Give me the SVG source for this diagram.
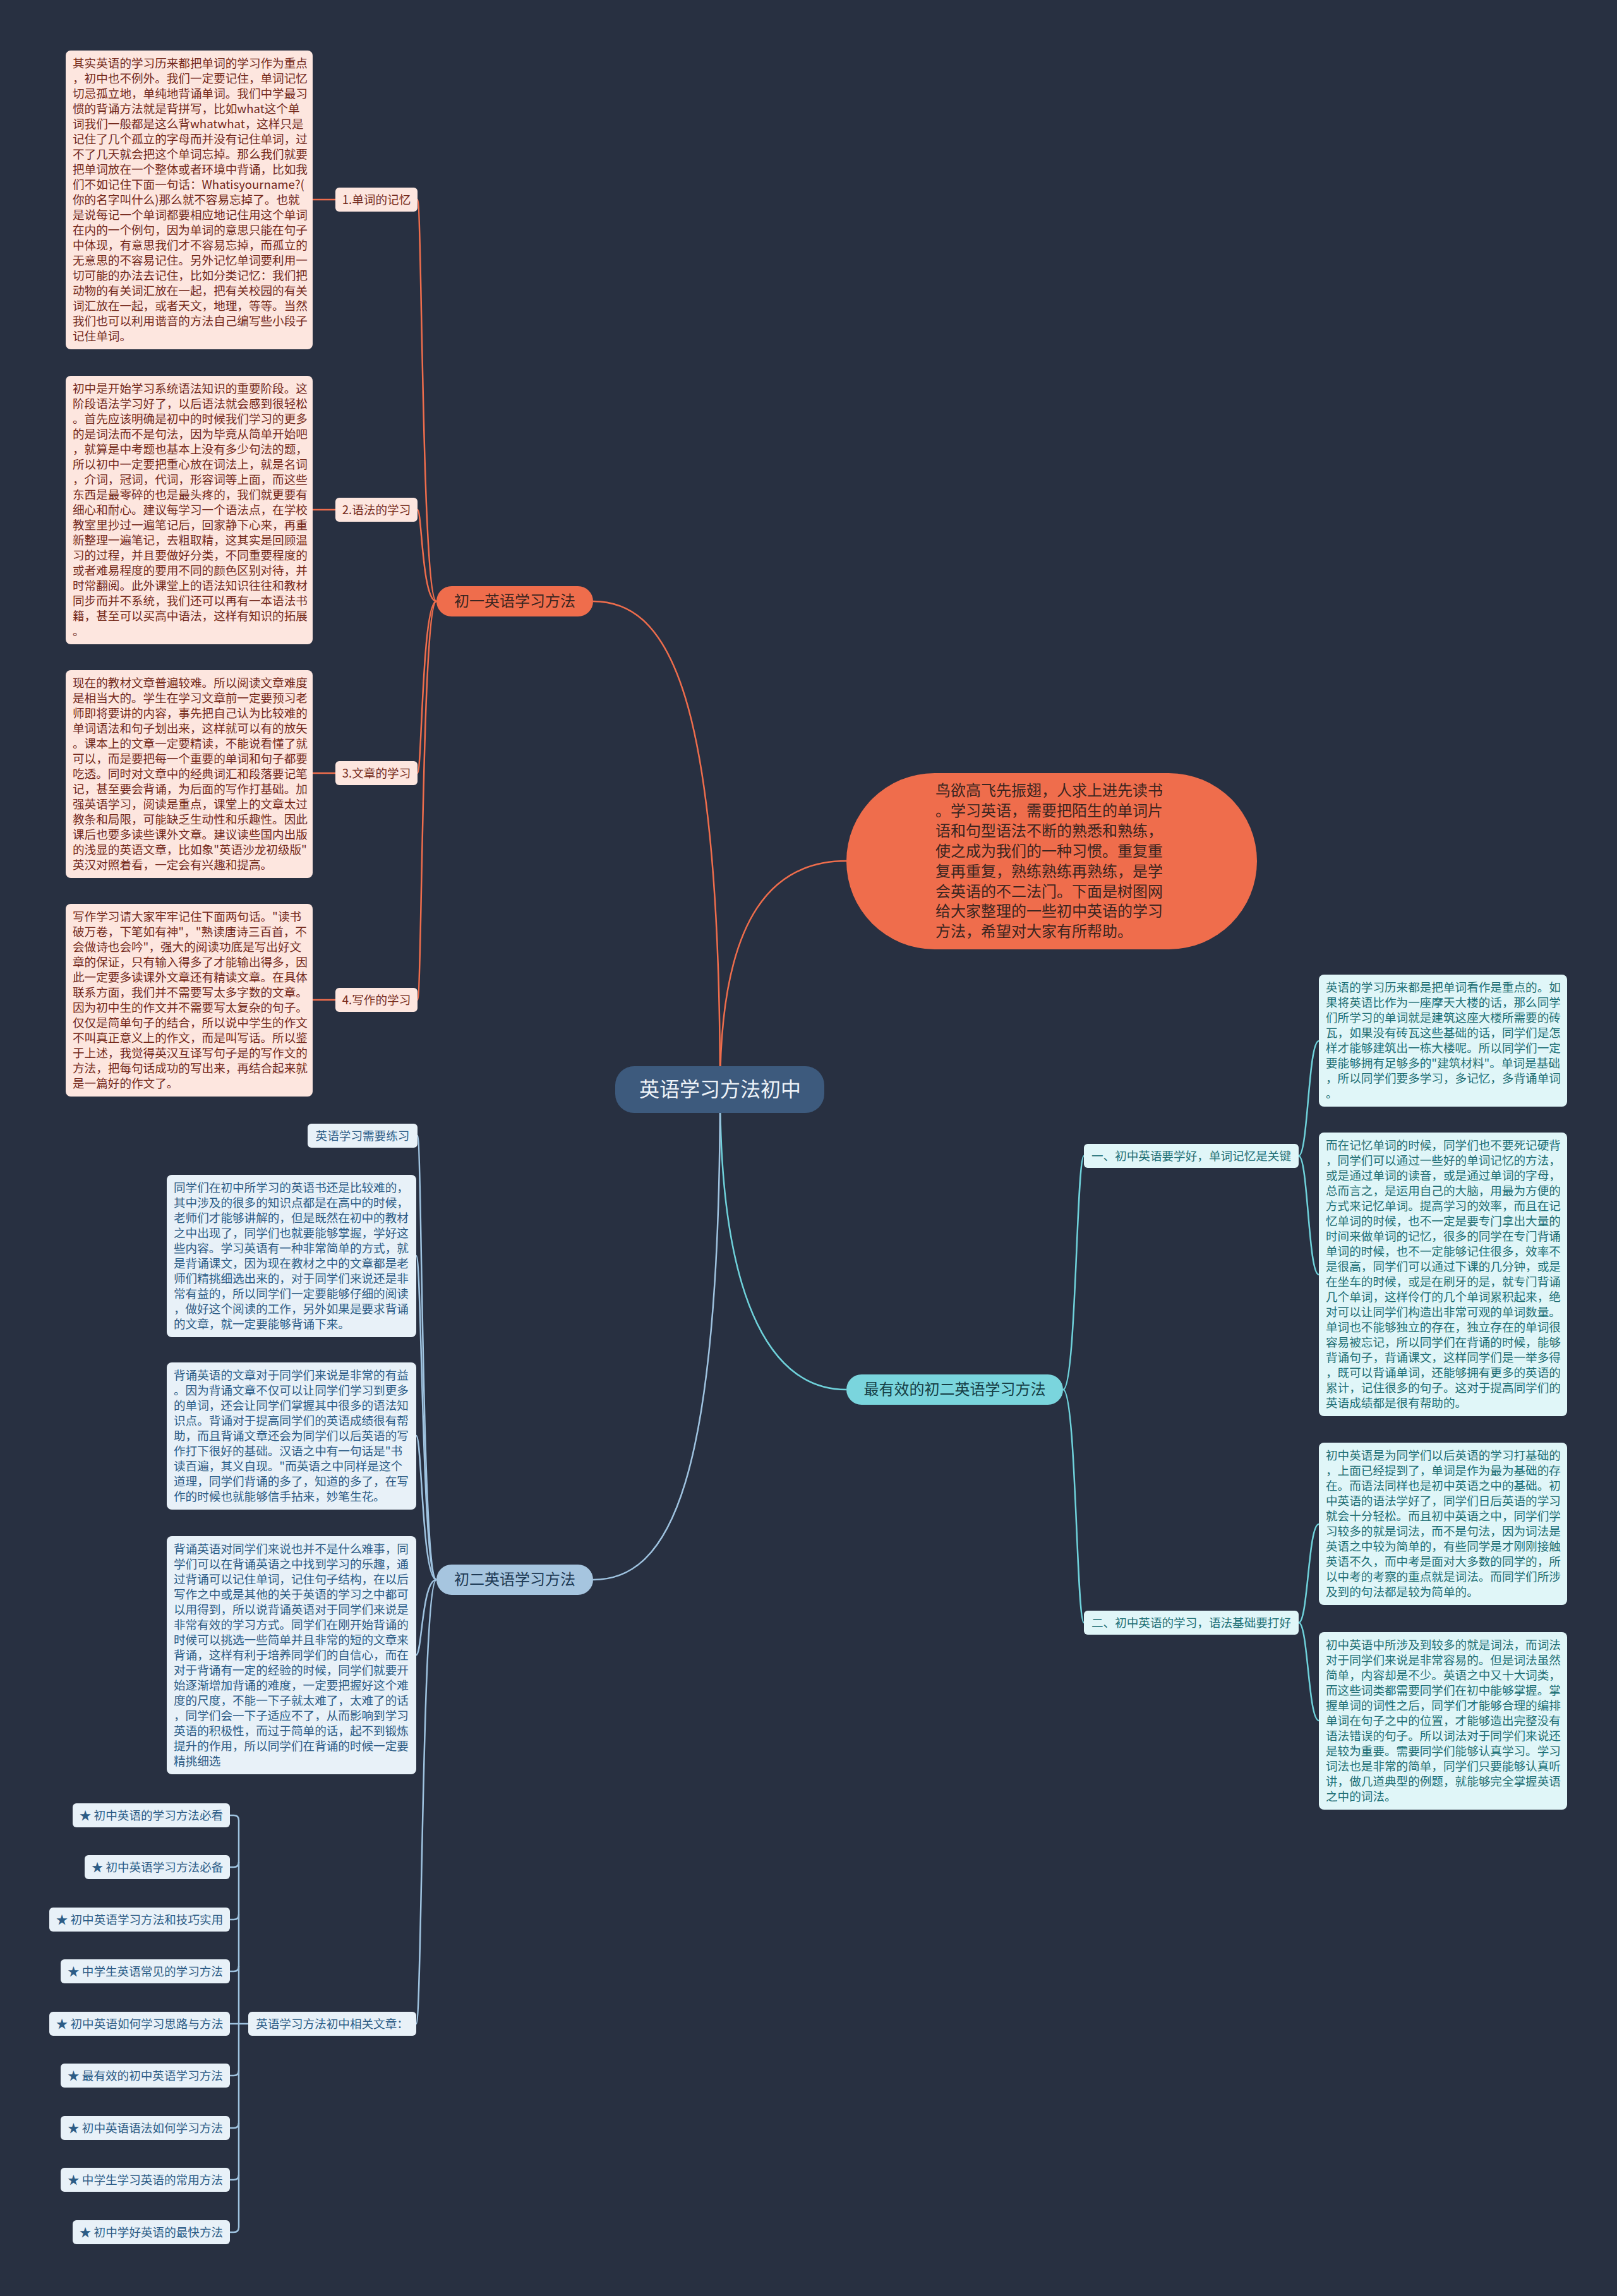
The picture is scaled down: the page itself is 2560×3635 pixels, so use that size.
<svg xmlns="http://www.w3.org/2000/svg" width="2560" height="3635" viewBox="0 0 2560 3635">
<style>
text{font-family:"Noto Sans CJK SC","Noto Sans",sans-serif;}
.s{font-size:18.6px;}
.lo{fill:none;stroke:#ef6d4c;stroke-width:2.5;}
.lc{fill:none;stroke:#6fd2db;stroke-width:2.5;}
.lb{fill:none;stroke:#9fc3e0;stroke-width:2.5;}
.po{fill:#fde6df;}
.to{fill:#74291b;}
.pc{fill:#e0f6f8;}
.tc{fill:#1d6e74;}
.pb{fill:#e8f1f8;}
.tb{fill:#2c5c86;}
.mid{text-anchor:middle;}
</style>
<rect width="2560" height="3635" fill="#283041"/>

<g id="connectors">
  <path class="lo" d="M1140,1725 C1140,1440 1230,1363 1340,1363"/>
  <path class="lo" d="M1140,1725 C1140,1100 1060,952 939,952"/>
  <path class="lc" d="M1140,1725 C1140,2080 1230,2200 1340,2200"/>
  <path class="lb" d="M1140,1725 C1140,2350 1060,2501 939,2501"/>
  <path class="lo" d="M691,952 C668,952 668,316 661,316"/>
  <path class="lo" d="M691,952 C668,952 668,807 661,807"/>
  <path class="lo" d="M691,952 C668,952 668,1224 661,1224"/>
  <path class="lo" d="M691,952 C668,952 668,1583 661,1583"/>
  <path class="lo" d="M531,316 L495,316"/>
  <path class="lo" d="M531,807 L495,807"/>
  <path class="lo" d="M531,1224 L495,1224"/>
  <path class="lo" d="M531,1583 L495,1583"/>
  <path class="lc" d="M1683,2200 C1704,2200 1704,1830 1716,1830"/>
  <path class="lc" d="M1683,2200 C1704,2200 1704,2569 1716,2569"/>
  <path class="lc" d="M2056,1830 C2071,1830 2071,1648 2088,1648"/>
  <path class="lc" d="M2056,1830 C2071,1830 2071,2018 2088,2018"/>
  <path class="lc" d="M2056,2569 C2071,2569 2071,2413 2088,2413"/>
  <path class="lc" d="M2056,2569 C2071,2569 2071,2724 2088,2724"/>
  <path class="lb" d="M691,2501 C668,2501 668,1798 661,1798"/>
  <path class="lb" d="M691,2501 C668,2501 668,1988 659,1988"/>
  <path class="lb" d="M691,2501 C668,2501 668,2273 659,2273"/>
  <path class="lb" d="M691,2501 C668,2501 668,2620 659,2620"/>
  <path class="lb" d="M691,2501 C668,2501 668,3204 659,3204"/>
  <path class="lb" d="M393,3204 H364"/>
  <path class="lb" d="M378,3196 V2882 Q378,2874 370,2874 H364"/>
  <path class="lb" d="M378,2948 Q378,2956 370,2956 H364"/>
  <path class="lb" d="M378,3031 Q378,3039 370,3039 H364"/>
  <path class="lb" d="M378,3113 Q378,3121 370,3121 H364"/>
  <path class="lb" d="M378,3212 V3526 Q378,3534 370,3534 H364"/>
  <path class="lb" d="M378,3278 Q378,3286 370,3286 H364"/>
  <path class="lb" d="M378,3361 Q378,3369 370,3369 H364"/>
  <path class="lb" d="M378,3443 Q378,3451 370,3451 H364"/>
  <path class="lb" d="M378,3196 V3212"/>
</g>

<g id="root">
  <rect x="974" y="1688" width="331" height="74" rx="30" fill="#3d5a7d"/>
  <text x="1140" y="1736" class="mid" font-size="32" fill="#eef3f8">英语学习方法初中</text>
</g>

<g id="intro">
  <rect x="1340" y="1224" width="650" height="279" rx="139.5" fill="#ef6d4c"/>
  <text x="1481" y="1260" font-size="24" fill="#3a2520">
    <tspan x="1481" dy="0">鸟欲高飞先振翅，人求上进先读书</tspan>
    <tspan x="1481" dy="31.9">。学习英语，需要把陌生的单词片</tspan>
    <tspan x="1481" dy="31.9">语和句型语法不断的熟悉和熟练，</tspan>
    <tspan x="1481" dy="31.9">使之成为我们的一种习惯。重复重</tspan>
    <tspan x="1481" dy="31.9">复再重复，熟练熟练再熟练，是学</tspan>
    <tspan x="1481" dy="31.9">会英语的不二法门。下面是树图网</tspan>
    <tspan x="1481" dy="31.9">给大家整理的一些初中英语的学习</tspan>
    <tspan x="1481" dy="31.9">方法，希望对大家有所帮助。</tspan>
  </text>
</g>

<g id="branch1">
  <rect x="691" y="928" width="248" height="48" rx="24" fill="#ef6d4c"/>
  <text x="815" y="960" class="mid" font-size="24" fill="#3a2520">初一英语学习方法</text>
</g>

<g id="b1-label1"><rect x="531" y="297" width="130" height="38" rx="6" class="po"/><text x="596" y="322.5" class="s mid to">1.单词的记忆</text></g>
<g id="b1-label2"><rect x="531" y="788" width="130" height="38" rx="6" class="po"/><text x="596" y="813.5" class="s mid to">2.语法的学习</text></g>
<g id="b1-label3"><rect x="531" y="1205" width="130" height="38" rx="6" class="po"/><text x="596" y="1230.5" class="s mid to">3.文章的学习</text></g>
<g id="b1-label4"><rect x="531" y="1564" width="130" height="38" rx="6" class="po"/><text x="596" y="1589.5" class="s mid to">4.写作的学习</text></g>

<g id="b1-text1">
  <rect x="104" y="80" width="391" height="473" rx="8" class="po"/>
  <text x="115" y="107" class="s to">
    <tspan x="115" dy="0">其实英语的学习历来都把单词的学习作为重点</tspan>
    <tspan x="115" dy="24">，初中也不例外。我们一定要记住，单词记忆</tspan>
    <tspan x="115" dy="24">切忌孤立地，单纯地背诵单词。我们中学最习</tspan>
    <tspan x="115" dy="24">惯的背诵方法就是背拼写，比如what这个单</tspan>
    <tspan x="115" dy="24">词我们一般都是这么背whatwhat，这样只是</tspan>
    <tspan x="115" dy="24">记住了几个孤立的字母而并没有记住单词，过</tspan>
    <tspan x="115" dy="24">不了几天就会把这个单词忘掉。那么我们就要</tspan>
    <tspan x="115" dy="24">把单词放在一个整体或者环境中背诵，比如我</tspan>
    <tspan x="115" dy="24">们不如记住下面一句话：Whatisyourname?(</tspan>
    <tspan x="115" dy="24">你的名字叫什么)那么就不容易忘掉了。也就</tspan>
    <tspan x="115" dy="24">是说每记一个单词都要相应地记住用这个单词</tspan>
    <tspan x="115" dy="24">在内的一个例句，因为单词的意思只能在句子</tspan>
    <tspan x="115" dy="24">中体现，有意思我们才不容易忘掉，而孤立的</tspan>
    <tspan x="115" dy="24">无意思的不容易记住。另外记忆单词要利用一</tspan>
    <tspan x="115" dy="24">切可能的办法去记住，比如分类记忆：我们把</tspan>
    <tspan x="115" dy="24">动物的有关词汇放在一起，把有关校园的有关</tspan>
    <tspan x="115" dy="24">词汇放在一起，或者天文，地理，等等。当然</tspan>
    <tspan x="115" dy="24">我们也可以利用谐音的方法自己编写些小段子</tspan>
    <tspan x="115" dy="24">记住单词。</tspan>
  </text>
</g>

<g id="b1-text2">
  <rect x="104" y="595" width="391" height="425" rx="8" class="po"/>
  <text x="115" y="622" class="s to">
    <tspan x="115" dy="0">初中是开始学习系统语法知识的重要阶段。这</tspan>
    <tspan x="115" dy="24">阶段语法学习好了，以后语法就会感到很轻松</tspan>
    <tspan x="115" dy="24">。首先应该明确是初中的时候我们学习的更多</tspan>
    <tspan x="115" dy="24">的是词法而不是句法，因为毕竟从简单开始吧</tspan>
    <tspan x="115" dy="24">，就算是中考题也基本上没有多少句法的题，</tspan>
    <tspan x="115" dy="24">所以初中一定要把重心放在词法上，就是名词</tspan>
    <tspan x="115" dy="24">，介词，冠词，代词，形容词等上面，而这些</tspan>
    <tspan x="115" dy="24">东西是最零碎的也是最头疼的，我们就更要有</tspan>
    <tspan x="115" dy="24">细心和耐心。建议每学习一个语法点，在学校</tspan>
    <tspan x="115" dy="24">教室里抄过一遍笔记后，回家静下心来，再重</tspan>
    <tspan x="115" dy="24">新整理一遍笔记，去粗取精，这其实是回顾温</tspan>
    <tspan x="115" dy="24">习的过程，并且要做好分类，不同重要程度的</tspan>
    <tspan x="115" dy="24">或者难易程度的要用不同的颜色区别对待，并</tspan>
    <tspan x="115" dy="24">时常翻阅。此外课堂上的语法知识往往和教材</tspan>
    <tspan x="115" dy="24">同步而并不系统，我们还可以再有一本语法书</tspan>
    <tspan x="115" dy="24">籍，甚至可以买高中语法，这样有知识的拓展</tspan>
    <tspan x="115" dy="24">。</tspan>
  </text>
</g>

<g id="b1-text3">
  <rect x="104" y="1061" width="391" height="329" rx="8" class="po"/>
  <text x="115" y="1088" class="s to">
    <tspan x="115" dy="0">现在的教材文章普遍较难。所以阅读文章难度</tspan>
    <tspan x="115" dy="24">是相当大的。学生在学习文章前一定要预习老</tspan>
    <tspan x="115" dy="24">师即将要讲的内容，事先把自己认为比较难的</tspan>
    <tspan x="115" dy="24">单词语法和句子划出来，这样就可以有的放矢</tspan>
    <tspan x="115" dy="24">。课本上的文章一定要精读，不能说看懂了就</tspan>
    <tspan x="115" dy="24">可以，而是要把每一个重要的单词和句子都要</tspan>
    <tspan x="115" dy="24">吃透。同时对文章中的经典词汇和段落要记笔</tspan>
    <tspan x="115" dy="24">记，甚至要会背诵，为后面的写作打基础。加</tspan>
    <tspan x="115" dy="24">强英语学习，阅读是重点，课堂上的文章太过</tspan>
    <tspan x="115" dy="24">教条和局限，可能缺乏生动性和乐趣性。因此</tspan>
    <tspan x="115" dy="24">课后也要多读些课外文章。建议读些国内出版</tspan>
    <tspan x="115" dy="24">的浅显的英语文章，比如象"英语沙龙初级版"</tspan>
    <tspan x="115" dy="24">英汉对照着看，一定会有兴趣和提高。</tspan>
  </text>
</g>

<g id="b1-text4">
  <rect x="104" y="1431" width="391" height="305" rx="8" class="po"/>
  <text x="115" y="1458" class="s to">
    <tspan x="115" dy="0">写作学习请大家牢牢记住下面两句话。"读书</tspan>
    <tspan x="115" dy="24">破万卷，下笔如有神"，"熟读唐诗三百首，不</tspan>
    <tspan x="115" dy="24">会做诗也会吟"，强大的阅读功底是写出好文</tspan>
    <tspan x="115" dy="24">章的保证，只有输入得多了才能输出得多，因</tspan>
    <tspan x="115" dy="24">此一定要多读课外文章还有精读文章。在具体</tspan>
    <tspan x="115" dy="24">联系方面，我们并不需要写太多字数的文章。</tspan>
    <tspan x="115" dy="24">因为初中生的作文并不需要写太复杂的句子。</tspan>
    <tspan x="115" dy="24">仅仅是简单句子的结合，所以说中学生的作文</tspan>
    <tspan x="115" dy="24">不叫真正意义上的作文，而是叫写话。所以鉴</tspan>
    <tspan x="115" dy="24">于上述，我觉得英汉互译写句子是的写作文的</tspan>
    <tspan x="115" dy="24">方法，把每句话成功的写出来，再结合起来就</tspan>
    <tspan x="115" dy="24">是一篇好的作文了。</tspan>
  </text>
</g>

<g id="branch3">
  <rect x="1340" y="2176" width="343" height="48" rx="24" fill="#7ad5dd"/>
  <text x="1511.5" y="2208" class="mid" font-size="24" fill="#163e45">最有效的初二英语学习方法</text>
</g>

<g id="b3-label1"><rect x="1716" y="1811" width="340" height="38" rx="6" class="pc"/><text x="1886" y="1836.5" class="s mid tc">一、初中英语要学好，单词记忆是关键</text></g>
<g id="b3-label2"><rect x="1716" y="2550" width="340" height="38" rx="6" class="pc"/><text x="1886" y="2575.5" class="s mid tc">二、初中英语的学习，语法基础要打好</text></g>

<g id="b3-text1">
  <rect x="2088" y="1543" width="393" height="209" rx="8" class="pc"/>
  <text x="2099" y="1570" class="s tc">
    <tspan x="2099" dy="0">英语的学习历来都是把单词看作是重点的。如</tspan>
    <tspan x="2099" dy="24">果将英语比作为一座摩天大楼的话，那么同学</tspan>
    <tspan x="2099" dy="24">们所学习的单词就是建筑这座大楼所需要的砖</tspan>
    <tspan x="2099" dy="24">瓦，如果没有砖瓦这些基础的话，同学们是怎</tspan>
    <tspan x="2099" dy="24">样才能够建筑出一栋大楼呢。所以同学们一定</tspan>
    <tspan x="2099" dy="24">要能够拥有足够多的"建筑材料"。单词是基础</tspan>
    <tspan x="2099" dy="24">，所以同学们要多学习，多记忆，多背诵单词</tspan>
    <tspan x="2099" dy="24">。</tspan>
  </text>
</g>

<g id="b3-text2">
  <rect x="2088" y="1793" width="393" height="449" rx="8" class="pc"/>
  <text x="2099" y="1820" class="s tc">
    <tspan x="2099" dy="0">而在记忆单词的时候，同学们也不要死记硬背</tspan>
    <tspan x="2099" dy="24">，同学们可以通过一些好的单词记忆的方法，</tspan>
    <tspan x="2099" dy="24">或是通过单词的读音，或是通过单词的字母，</tspan>
    <tspan x="2099" dy="24">总而言之，是运用自己的大脑，用最为方便的</tspan>
    <tspan x="2099" dy="24">方式来记忆单词。提高学习的效率，而且在记</tspan>
    <tspan x="2099" dy="24">忆单词的时候，也不一定是要专门拿出大量的</tspan>
    <tspan x="2099" dy="24">时间来做单词的记忆，很多的同学在专门背诵</tspan>
    <tspan x="2099" dy="24">单词的时候，也不一定能够记住很多，效率不</tspan>
    <tspan x="2099" dy="24">是很高，同学们可以通过下课的几分钟，或是</tspan>
    <tspan x="2099" dy="24">在坐车的时候，或是在刷牙的是，就专门背诵</tspan>
    <tspan x="2099" dy="24">几个单词，这样伶仃的几个单词累积起来，绝</tspan>
    <tspan x="2099" dy="24">对可以让同学们构造出非常可观的单词数量。</tspan>
    <tspan x="2099" dy="24">单词也不能够独立的存在，独立存在的单词很</tspan>
    <tspan x="2099" dy="24">容易被忘记，所以同学们在背诵的时候，能够</tspan>
    <tspan x="2099" dy="24">背诵句子，背诵课文，这样同学们是一举多得</tspan>
    <tspan x="2099" dy="24">，既可以背诵单词，还能够拥有更多的英语的</tspan>
    <tspan x="2099" dy="24">累计，记住很多的句子。这对于提高同学们的</tspan>
    <tspan x="2099" dy="24">英语成绩都是很有帮助的。</tspan>
  </text>
</g>

<g id="b3-text3">
  <rect x="2088" y="2284" width="393" height="257" rx="8" class="pc"/>
  <text x="2099" y="2311" class="s tc">
    <tspan x="2099" dy="0">初中英语是为同学们以后英语的学习打基础的</tspan>
    <tspan x="2099" dy="24">，上面已经提到了，单词是作为最为基础的存</tspan>
    <tspan x="2099" dy="24">在。而语法同样也是初中英语之中的基础。初</tspan>
    <tspan x="2099" dy="24">中英语的语法学好了，同学们日后英语的学习</tspan>
    <tspan x="2099" dy="24">就会十分轻松。而且初中英语之中，同学们学</tspan>
    <tspan x="2099" dy="24">习较多的就是词法，而不是句法，因为词法是</tspan>
    <tspan x="2099" dy="24">英语之中较为简单的，有些同学是才刚刚接触</tspan>
    <tspan x="2099" dy="24">英语不久，而中考是面对大多数的同学的，所</tspan>
    <tspan x="2099" dy="24">以中考的考察的重点就是词法。而同学们所涉</tspan>
    <tspan x="2099" dy="24">及到的句法都是较为简单的。</tspan>
  </text>
</g>

<g id="b3-text4">
  <rect x="2088" y="2584" width="393" height="281" rx="8" class="pc"/>
  <text x="2099" y="2611" class="s tc">
    <tspan x="2099" dy="0">初中英语中所涉及到较多的就是词法，而词法</tspan>
    <tspan x="2099" dy="24">对于同学们来说是非常容易的。但是词法虽然</tspan>
    <tspan x="2099" dy="24">简单，内容却是不少。英语之中又十大词类，</tspan>
    <tspan x="2099" dy="24">而这些词类都需要同学们在初中能够掌握。掌</tspan>
    <tspan x="2099" dy="24">握单词的词性之后，同学们才能够合理的编排</tspan>
    <tspan x="2099" dy="24">单词在句子之中的位置，才能够造出完整没有</tspan>
    <tspan x="2099" dy="24">语法错误的句子。所以词法对于同学们来说还</tspan>
    <tspan x="2099" dy="24">是较为重要。需要同学们能够认真学习。学习</tspan>
    <tspan x="2099" dy="24">词法也是非常的简单，同学们只要能够认真听</tspan>
    <tspan x="2099" dy="24">讲，做几道典型的例题，就能够完全掌握英语</tspan>
    <tspan x="2099" dy="24">之中的词法。</tspan>
  </text>
</g>

<g id="branch2">
  <rect x="691" y="2477" width="248" height="48" rx="24" fill="#a6c5df"/>
  <text x="815" y="2509" class="mid" font-size="24" fill="#1e3a55">初二英语学习方法</text>
</g>

<g id="b2-label1"><rect x="487" y="1779" width="174" height="38" rx="6" class="pb"/><text x="574" y="1804.5" class="s mid tb">英语学习需要练习</text></g>

<g id="b2-text1">
  <rect x="264" y="1860" width="395" height="257" rx="8" class="pb"/>
  <text x="275" y="1887" class="s tb">
    <tspan x="275" dy="0">同学们在初中所学习的英语书还是比较难的，</tspan>
    <tspan x="275" dy="24">其中涉及的很多的知识点都是在高中的时候，</tspan>
    <tspan x="275" dy="24">老师们才能够讲解的，但是既然在初中的教材</tspan>
    <tspan x="275" dy="24">之中出现了，同学们也就要能够掌握，学好这</tspan>
    <tspan x="275" dy="24">些内容。学习英语有一种非常简单的方式，就</tspan>
    <tspan x="275" dy="24">是背诵课文，因为现在教材之中的文章都是老</tspan>
    <tspan x="275" dy="24">师们精挑细选出来的，对于同学们来说还是非</tspan>
    <tspan x="275" dy="24">常有益的，所以同学们一定要能够仔细的阅读</tspan>
    <tspan x="275" dy="24">，做好这个阅读的工作，另外如果是要求背诵</tspan>
    <tspan x="275" dy="24">的文章，就一定要能够背诵下来。</tspan>
  </text>
</g>

<g id="b2-text2">
  <rect x="264" y="2157" width="395" height="233" rx="8" class="pb"/>
  <text x="275" y="2184" class="s tb">
    <tspan x="275" dy="0">背诵英语的文章对于同学们来说是非常的有益</tspan>
    <tspan x="275" dy="24">。因为背诵文章不仅可以让同学们学习到更多</tspan>
    <tspan x="275" dy="24">的单词，还会让同学们掌握其中很多的语法知</tspan>
    <tspan x="275" dy="24">识点。背诵对于提高同学们的英语成绩很有帮</tspan>
    <tspan x="275" dy="24">助，而且背诵文章还会为同学们以后英语的写</tspan>
    <tspan x="275" dy="24">作打下很好的基础。汉语之中有一句话是"书</tspan>
    <tspan x="275" dy="24">读百遍，其义自现。"而英语之中同样是这个</tspan>
    <tspan x="275" dy="24">道理，同学们背诵的多了，知道的多了，在写</tspan>
    <tspan x="275" dy="24">作的时候也就能够信手拈来，妙笔生花。</tspan>
  </text>
</g>

<g id="b2-text3">
  <rect x="264" y="2432" width="395" height="377" rx="8" class="pb"/>
  <text x="275" y="2459" class="s tb">
    <tspan x="275" dy="0">背诵英语对同学们来说也并不是什么难事，同</tspan>
    <tspan x="275" dy="24">学们可以在背诵英语之中找到学习的乐趣，通</tspan>
    <tspan x="275" dy="24">过背诵可以记住单词，记住句子结构，在以后</tspan>
    <tspan x="275" dy="24">写作之中或是其他的关于英语的学习之中都可</tspan>
    <tspan x="275" dy="24">以用得到，所以说背诵英语对于同学们来说是</tspan>
    <tspan x="275" dy="24">非常有效的学习方式。同学们在刚开始背诵的</tspan>
    <tspan x="275" dy="24">时候可以挑选一些简单并且非常的短的文章来</tspan>
    <tspan x="275" dy="24">背诵，这样有利于培养同学们的自信心，而在</tspan>
    <tspan x="275" dy="24">对于背诵有一定的经验的时候，同学们就要开</tspan>
    <tspan x="275" dy="24">始逐渐增加背诵的难度，一定要把握好这个难</tspan>
    <tspan x="275" dy="24">度的尺度，不能一下子就太难了，太难了的话</tspan>
    <tspan x="275" dy="24">，同学们会一下子适应不了，从而影响到学习</tspan>
    <tspan x="275" dy="24">英语的积极性，而过于简单的话，起不到锻炼</tspan>
    <tspan x="275" dy="24">提升的作用，所以同学们在背诵的时候一定要</tspan>
    <tspan x="275" dy="24">精挑细选</tspan>
  </text>
</g>

<g id="b2-label2"><rect x="393" y="3185" width="266" height="38" rx="6" class="pb"/><text x="526" y="3210.5" class="s mid tb">英语学习方法初中相关文章：</text></g>

<g id="item1"><rect x="115" y="2855" width="249" height="38" rx="6" class="pb"/><text x="239.5" y="2880.5" class="s mid tb">★ 初中英语的学习方法必看</text></g>
<g id="item2"><rect x="134" y="2937" width="230" height="38" rx="6" class="pb"/><text x="249" y="2962.5" class="s mid tb">★ 初中英语学习方法必备</text></g>
<g id="item3"><rect x="78" y="3020" width="286" height="38" rx="6" class="pb"/><text x="221" y="3045.5" class="s mid tb">★ 初中英语学习方法和技巧实用</text></g>
<g id="item4"><rect x="96" y="3102" width="268" height="38" rx="6" class="pb"/><text x="230" y="3127.5" class="s mid tb">★ 中学生英语常见的学习方法</text></g>
<g id="item5"><rect x="78" y="3185" width="286" height="38" rx="6" class="pb"/><text x="221" y="3210.5" class="s mid tb">★ 初中英语如何学习思路与方法</text></g>
<g id="item6"><rect x="96" y="3267" width="268" height="38" rx="6" class="pb"/><text x="230" y="3292.5" class="s mid tb">★ 最有效的初中英语学习方法</text></g>
<g id="item7"><rect x="96" y="3350" width="268" height="38" rx="6" class="pb"/><text x="230" y="3375.5" class="s mid tb">★ 初中英语语法如何学习方法</text></g>
<g id="item8"><rect x="96" y="3432" width="268" height="38" rx="6" class="pb"/><text x="230" y="3457.5" class="s mid tb">★ 中学生学习英语的常用方法</text></g>
<g id="item9"><rect x="115" y="3515" width="249" height="38" rx="6" class="pb"/><text x="239.5" y="3540.5" class="s mid tb">★ 初中学好英语的最快方法</text></g>
</svg>
